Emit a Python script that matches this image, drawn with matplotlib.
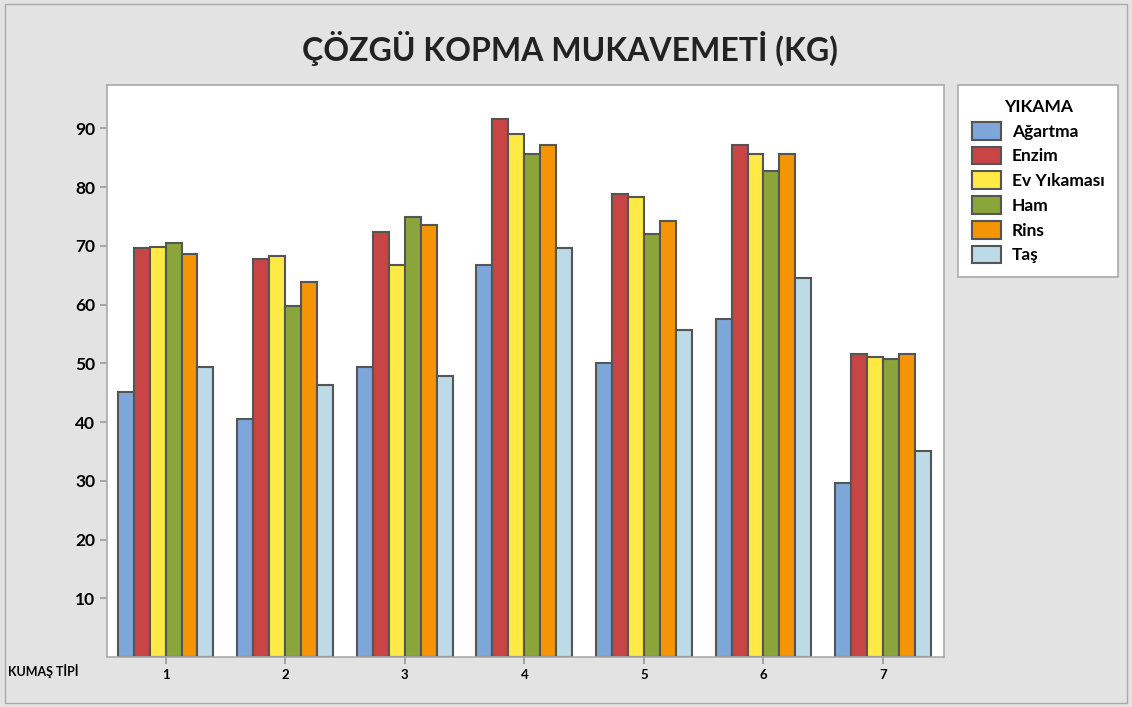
import numpy as np
import matplotlib.pyplot as plt
from matplotlib.patches import Rectangle

plt.rcParams['font.family'] = ['Lato', 'DejaVu Sans']
plt.rcParams['font.weight'] = 'bold'

# veriler
kumas_tipi = ['1', '2', '3', '4', '5', '6', '7']
yikama = ['Ağartma', 'Enzim', 'Ev Yıkaması', 'Ham', 'Rins', 'Taş']
agartma = [45.1, 40.6, 49.4, 66.7, 50.0, 57.5, 29.6]
enzim = [69.6, 67.8, 72.4, 91.6, 78.9, 87.2, 51.6]
ev_yikamasi = [69.8, 68.3, 66.7, 89.0, 78.3, 85.6, 51.0]
ham = [70.5, 59.8, 74.9, 85.6, 72.0, 82.7, 50.7]
rins = [68.6, 63.8, 73.6, 87.2, 74.2, 85.6, 51.6]
tas = [49.4, 46.3, 47.8, 69.6, 55.7, 64.5, 35.0]
renkler = ['#7da7d9', '#c94545', '#ffea45', '#8aa53a', '#f59505', '#bddbe6']

seriler = [agartma, enzim, ev_yikamasi, ham, rins, tas]

fig = plt.figure(figsize=(11.32, 7.07), dpi=100, facecolor='#e3e3e3')
ax = fig.add_axes([107 / 1132, 1 - 657 / 707, (944 - 107) / 1132, (657 - 85) / 707])
ax.set_facecolor('white')

x = np.arange(1, len(kumas_tipi) + 1)
w = 0.8 / len(yikama)
for i, (ad, deger) in enumerate(zip(yikama, seriler)):
    ax.bar(x + (i - 2.5) * w, deger, width=w, color=renkler[i],
           edgecolor='#555555', linewidth=1.5, label=ad)

ax.set_xlim(0.51, 7.51)
ax.set_ylim(0, 97.4)
ax.set_xticks(x)
ax.set_xticklabels(kumas_tipi, fontsize=9.5, fontweight='bold')
ax.set_yticks(range(10, 100, 10))
ax.set_yticklabels([str(v) for v in range(10, 100, 10)], fontsize=12.5, fontweight='bold')
ax.tick_params(axis='both', color='#999999', length=5, width=1.2)
for s in ax.spines.values():
    s.set_color('#aaaaaa')
    s.set_linewidth(1.2)

fig.text(570 / 1132, 1 - 48 / 707, 'ÇÖZGÜ KOPMA MUKAVEMETİ (KG)',
         ha='center', va='center', fontsize=23, fontweight='bold', color='#222222')
fig.text(8 / 1132, 1 - 671 / 707, 'KUMAŞ TİPİ', ha='left', va='center',
         fontsize=9, fontweight='bold')

# lejant
leg = fig.legend(loc='upper left', bbox_to_anchor=(958 / 1132, 1 - 85 / 707),
                 title='YIKAMA', fontsize=12.5, title_fontsize=12.5, frameon=True,
                 fancybox=False, edgecolor='#aaaaaa', facecolor='white', framealpha=1,
                 handlelength=1.7, handleheight=1.2, handletextpad=0.6,
                 labelspacing=0.4, borderpad=0.8, borderaxespad=0)
leg.get_title().set_fontweight('bold')
leg.get_frame().set_linewidth(1.2)
for t in leg.get_texts():
    t.set_fontweight('bold')

fig.patches.append(Rectangle((5 / 1132, 0.005), 1 - 10 / 1132, 0.99, transform=fig.transFigure,
                             fill=False, edgecolor='#aaaaaa', linewidth=1))

fig.savefig('out.png', dpi=100, facecolor=fig.get_facecolor())
